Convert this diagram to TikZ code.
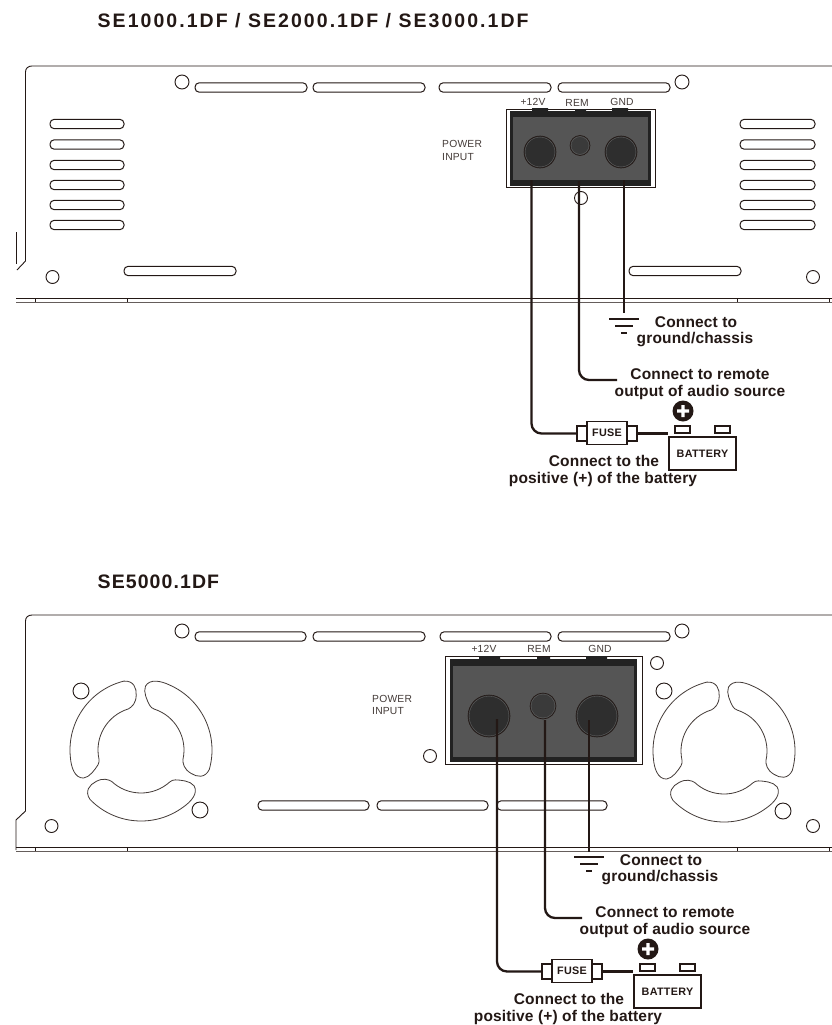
\documentclass[tikz,border=0pt]{standalone}
\usepackage{fontspec}
\setmainfont{Liberation Sans}
\definecolor{ink}{HTML}{231815}
\definecolor{plate}{HTML}{555555}
\definecolor{rim}{HTML}{222222}
\definecolor{hole}{HTML}{2E2E2E}
\definecolor{holeb}{HTML}{3A3A3A}
\tikzset{
  panel/.style={draw=ink,line width=0.9pt},
  slotline/.style={draw=ink,line width=1pt,fill=white,rounded corners=4.2pt},
  hole/.style={draw=ink,line width=0.9pt,fill=white},
  wire/.style={draw=ink,line width=2.3pt},
  title/.style={font=\bfseries\fontsize{19.5}{21}\selectfont,text=ink,anchor=west,inner sep=0pt},
  note/.style={font=\bfseries\fontsize{15.5}{17}\selectfont\addfontfeature{LetterSpace=1}\relax,text=ink,inner sep=0pt},
  tiny/.style={font=\fontsize{10.3}{12.5}\selectfont\addfontfeature{LetterSpace=2}\relax,text=ink!85!white,inner sep=0pt},
  boxlabel/.style={draw=ink,line width=1.2pt,fill=white,inner sep=0pt,font=\bfseries\fontsize{10.8}{11}\selectfont\addfontfeature{LetterSpace=3}\relax,text=ink},
}
\newcommand{\slotrow}[3]{\path[slotline] (#1,#3-4.7) rectangle (#2,#3+4.7);}
\newcommand{\fanpart}{%
  \draw[draw=ink!85!white,line width=0.8pt]
    (104:71) arc[start angle=104,end angle=186,radius=71]
    .. controls (194:72) and (203:72) .. (206:64)
    .. controls (208:58) and (203:50) .. (199:45.5)
    .. controls (197:44) and (195:43) .. (192:43)
    arc[start angle=192,end angle=107,radius=43]
    .. controls (102:44) and (96:47) .. (95:55)
    .. controls (94:62) and (96:70) .. (104:71) -- cycle;}
\newcommand{\fan}[2]{%
  \foreach \r in {0,120,240}{%
    \begin{scope}[shift={(#1,#2)},x=1pt,y=1pt,rotate=\r]\fanpart\end{scope}}}
\newcommand{\knobat}[5]{% name, x, y, radius, fill
  \node[circle,draw=ink,line width=0.6pt,fill=#5,minimum size=2*#4*1pt,inner sep=0pt] (#1) at (#2,#3) {};
  \draw[white!40!black,line width=0.3pt] (#2,#3) circle[radius=#4-1.1];}
\newcommand{\hookup}[3]{%
  \begin{scope}[shift={(#2,#3)}]
    \node[boxlabel,minimum width=10pt,minimum height=15pt] (#1capl) at (582,433.5) {};
    \node[boxlabel,minimum width=10pt,minimum height=15pt] (#1capr) at (632,433.5) {};
    \node[boxlabel,minimum width=40pt,minimum height=23pt] (#1fuse) at (607,433) {FUSE};
    \node[boxlabel,minimum width=67pt,minimum height=33pt] (#1batt) at (702.5,453.5) {BATTERY};
    \node[draw=ink,line width=1.1pt,fill=white,minimum width=15pt,minimum height=7pt,inner sep=0pt] (#1tl) at (682.5,429.5) {};
    \node[draw=ink,line width=1.1pt,fill=white,minimum width=15pt,minimum height=7pt,inner sep=0pt] (#1tr) at (722.5,429.5) {};
    \node[circle,fill=ink,minimum size=21pt,inner sep=0pt] (#1plus) at (683,411) {};
    \fill[white] (677,409.3) rectangle (689,412.7) (681.3,405) rectangle (684.7,417);
    \draw[ink,line width=2.4pt] (#1capr.east) -- (#1batt.west |- #1capr.east);
    \node[note] (#1n1) at (696,322) {Connect to};
    \node[note] (#1n2) at (695,339.5) {ground/chassis};
    \node[note] (#1n3) at (700,374) {Connect to remote};
    \node[note] (#1n4) at (700,392) {output of audio source};
    \node[note] (#1n5) at (604,461) {Connect to the};
    \node[note] (#1n6) at (603,479) {positive (+) of the battery};
    \coordinate (#1remend) at (617,380);
  \end{scope}}
\newcommand{\groundsym}[2]{%
  \draw[ink,line width=2.5pt] (#1-15,#2) -- (#1+15,#2) (#1-9,#2+7) -- (#1+9,#2+7) (#1-3,#2+14) -- (#1+3,#2+14);}
\begin{document}
\begin{tikzpicture}[x=1pt,y=-1pt]
\useasboundingbox (0,0) rectangle (832,1025);
\fill[white] (0,0) rectangle (832,1025);

\node[title] (t1) at (97.5,20.5) {\addfontfeature{LetterSpace=10.5}SE1000.1DF / SE2000.1DF / SE3000.1DF};
\node[title] (t2) at (97.5,582) {\addfontfeature{LetterSpace=5.6}SE5000.1DF};

% ---------- upper panel
\draw[panel] (832,66) -- (32,66) .. controls (28,66) and (25.5,68.5) .. (25.5,72) -- (25.5,261) -- (17,270);
\draw[panel] (16,232) -- (16,264);
\draw[panel] (16,298) -- (832,298);
\draw[panel,draw=ink!70!white] (16,302) -- (832,302);
\foreach \x in {35,127.5,737,829} \draw[ink,line width=0.7pt] (\x,298) -- (\x,302);
\slotrow{195}{307}{87.5}\slotrow{313}{425}{87.5}\slotrow{439}{551}{87.5}\slotrow{558}{670}{87.5}
\foreach \y in {124,144.5,165,185,205,225}{\slotrow{50}{124}{\y}\slotrow{740}{815}{\y}}
\slotrow{124}{236}{271}\slotrow{629}{741}{271}
\draw[hole] (182,82) circle[radius=7];
\draw[hole] (682,82) circle[radius=7];
\draw[hole] (52.5,277) circle[radius=6.5];
\draw[hole] (813,277) circle[radius=6.5];
\draw[hole] (581,198) circle[radius=6.5];
\node[tiny,anchor=west,align=left] (pi1) at (442,150.5) {POWER\\INPUT};
\node[tiny] (l1) at (533,102) {+12V};
\node[tiny] (l2) at (577,102.5) {REM};
\node[tiny] (l3) at (622,101.5) {GND};
% terminal block
\draw[ink,line width=0.8pt,fill=white] (506.5,109) rectangle (655,187);
\fill[rim] (510,111) rectangle (651,185.5);
\fill[plate] (513,117) rectangle (648,180);
\fill[rim] (532,108) rectangle (548,114) (575,109) rectangle (586,114) (612,108) rectangle (628,114);
\knobat{a1}{540}{152}{16}{hole}
\knobat{a2}{580}{145.5}{10}{holeb}
\knobat{a3}{621}{152}{16}{hole}
\hookup{u}{0}{0}
\coordinate (ua) at (531.5,180);
\coordinate (ub) at (579,181);
\coordinate (uc) at (624,180);
\draw[wire,rounded corners=10pt] (ua) |- (ucapl.west);
\draw[wire,rounded corners=10pt] (ub) |- (uremend);
\coordinate (ug) at (624,313);
\draw[wire] (uc) -- (ug);
\groundsym{624}{319}

% ---------- lower panel
\draw[panel] (832,615) -- (32,615) .. controls (28,615) and (25.5,617.5) .. (25.5,621) -- (25.5,811) -- (16,820) -- (16,850);
\draw[panel] (16,847) -- (832,847);
\draw[panel,draw=ink!70!white] (16,851) -- (832,851);
\foreach \x in {35,127.5,737,829} \draw[ink,line width=0.7pt] (\x,847) -- (\x,851);
\slotrow{195}{306}{636.5}\slotrow{313}{425}{636.5}\slotrow{440}{551}{636.5}\slotrow{558}{670}{636.5}
\slotrow{258}{369}{805.5}\slotrow{377}{488}{805.5}\slotrow{497}{607}{805.5}
\draw[hole] (182,631) circle[radius=7];
\draw[hole] (682,631) circle[radius=7];
\draw[hole] (51.5,826) circle[radius=6.5];
\draw[hole] (813,826) circle[radius=6.5];
\draw[hole] (657,663) circle[radius=6.5];
\draw[hole] (430,756) circle[radius=6.5];
\fan{141}{750}
\fan{724}{751}
\draw[hole] (81,691) circle[radius=8];
\draw[hole] (200,810) circle[radius=8];
\draw[hole] (664,691) circle[radius=8];
\draw[hole] (783,811) circle[radius=8];
\node[tiny,anchor=west,align=left] (pi2) at (372,705) {POWER\\INPUT};
\node[tiny] (m1) at (484,649) {+12V};
\node[tiny] (m2) at (539,649) {REM};
\node[tiny] (m3) at (600,649) {GND};
\draw[ink,line width=1pt,fill=white] (445,656) rectangle (642,764);
\fill[rim] (450,659) rectangle (637,762);
\fill[plate] (453,666) rectangle (634,757);
\fill[rim] (479,656) rectangle (500,664) (537,657) rectangle (550,664) (586,656) rectangle (607,664);
\knobat{b1}{489}{716}{21}{hole}
\knobat{b2}{543}{706}{13}{holeb}
\knobat{b3}{597}{716}{21}{hole}
\hookup{v}{-35}{538}
\coordinate (va) at (497,719);
\coordinate (vb) at (545,720);
\coordinate (vc) at (589,720);
\draw[wire,rounded corners=10pt] (va) |- (vcapl.west);
\draw[wire,rounded corners=10pt] (vb) |- (vremend);
\coordinate (vg) at (589,852);
\draw[wire] (vc) -- (vg);
\groundsym{589}{857}
\end{tikzpicture}
\end{document}
